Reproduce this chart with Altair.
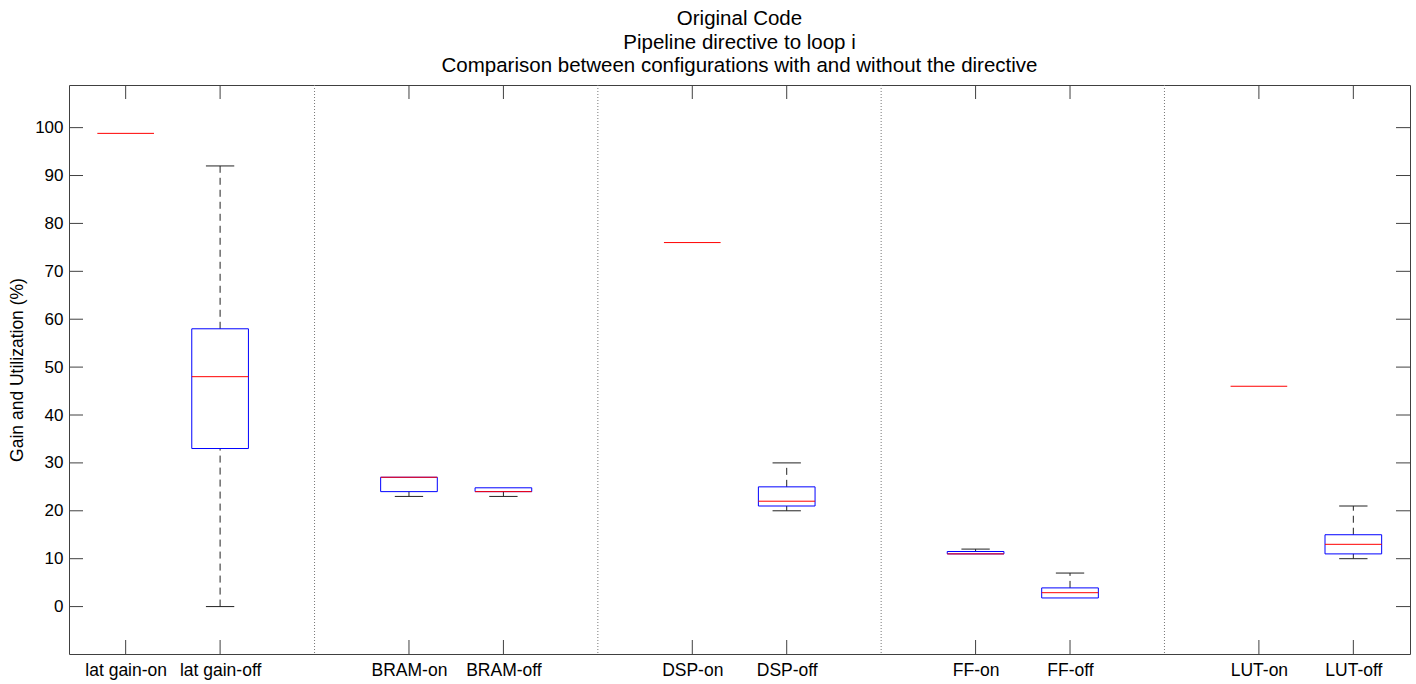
import altair as alt
import pandas as pd

# ---- data ----
labels = ["lat gain-on", "lat gain-off", "BRAM-on", "BRAM-off", "DSP-on",
          "DSP-off", "FF-on", "FF-off", "LUT-on", "LUT-off"]
positions = [1, 2, 4, 5, 7, 8, 10, 11, 13, 14]
whisker_low = [98.8, 0.0, 23.0, 23.0, 76.0, 20.0, 11.0, 1.8, 46.0, 10.0]
q1 = [98.8, 33.0, 24.0, 24.0, 76.0, 21.0, 11.0, 1.8, 46.0, 11.0]
median = [98.8, 48.0, 27.0, 24.0, 76.0, 22.0, 11.0, 2.9, 46.0, 13.0]
q3 = [98.8, 58.0, 27.0, 24.8, 76.0, 25.0, 11.5, 3.9, 46.0, 15.0]
whisker_high = [98.8, 92.0, 27.0, 24.8, 76.0, 30.0, 12.0, 7.0, 46.0, 21.0]
separators = [3, 6, 9, 12]
y_ticks = [0, 10, 20, 30, 40, 50, 60, 70, 80, 90, 100]
title_lines = ["Original Code", "Pipeline directive to loop i",
               "Comparison between configurations with and without the directive"]
y_title = "Gain and Utilization (%)"

# ---- layout / style ----
W, H = 1341, 569
FONT = "Liberation Sans"
BOX_HALF = 0.3
CAP_HALF = 0.15
TICK_LEN = 14
FRAME = "#404040"

df = pd.DataFrame({"label": labels, "pos": positions, "lo": whisker_low, "q1": q1,
                   "med": median, "q3": q3, "hi": whisker_high})
sep_df = pd.DataFrame({"x": separators})
ytick_df = pd.DataFrame({"v": y_ticks})

xs = alt.Scale(domain=[0.4, 14.6], nice=False, zero=False)
ys = alt.Scale(domain=[-9.9, 108.9], nice=False, zero=False)

label_expr = "".join(f"datum.value == {p} ? '{l}' : " for p, l in zip(positions, labels)) + "''"

x_axis = alt.Axis(values=positions, labelExpr=label_expr, title=None, grid=False,
                  domain=False, ticks=False, labelFont=FONT, labelFontSize=17.5,
                  labelColor="black", labelPadding=7, labelFlush=False)
y_axis = alt.Axis(values=y_ticks, title=y_title, grid=False, domain=False, ticks=False,
                  labelFont=FONT, labelFontSize=17, labelColor="black", labelPadding=6,
                  titleFont=FONT, titleFontSize=17.5, titleFontWeight="normal",
                  titleColor="black", titlePadding=8)

base = alt.Chart(df)

seps = alt.Chart(sep_df).mark_rule(color="#777777", strokeDash=[1, 2], strokeWidth=1).encode(
    x=alt.X("x:Q", scale=xs, axis=x_axis), y=alt.value(0), y2=alt.value(H))

whisk_up = base.mark_rule(color="#222222", strokeDash=[7, 5], strokeWidth=1).encode(
    x=alt.X("pos:Q", scale=xs), y=alt.Y("q3:Q", scale=ys, axis=y_axis), y2="hi:Q")
whisk_dn = base.mark_rule(color="#222222", strokeDash=[7, 5], strokeWidth=1).encode(
    x=alt.X("pos:Q", scale=xs), y=alt.Y("lo:Q", scale=ys), y2="q1:Q")

# caps only where the whisker has length (otherwise hidden under the box in the original)
caps_hi = base.transform_filter("datum.hi > datum.q3").transform_calculate(
    a=f"datum.pos - {CAP_HALF}", b=f"datum.pos + {CAP_HALF}").mark_rule(
    color="#222222", strokeWidth=1).encode(
    x=alt.X("a:Q", scale=xs), x2="b:Q", y=alt.Y("hi:Q", scale=ys))
caps_lo = base.transform_filter("datum.lo < datum.q1").transform_calculate(
    a=f"datum.pos - {CAP_HALF}", b=f"datum.pos + {CAP_HALF}").mark_rule(
    color="#222222", strokeWidth=1).encode(
    x=alt.X("a:Q", scale=xs), x2="b:Q", y=alt.Y("lo:Q", scale=ys))

boxes = base.transform_filter("datum.q3 > datum.q1").transform_calculate(
    a=f"datum.pos - {BOX_HALF}", b=f"datum.pos + {BOX_HALF}").mark_rect(
    fill=None, fillOpacity=0, stroke="#0000ff", strokeWidth=1).encode(
    x=alt.X("a:Q", scale=xs), x2="b:Q", y=alt.Y("q1:Q", scale=ys), y2="q3:Q")

meds = base.transform_calculate(
    a=f"datum.pos - {BOX_HALF}", b=f"datum.pos + {BOX_HALF}").mark_rule(
    color="#ff0000", strokeWidth=1).encode(
    x=alt.X("a:Q", scale=xs), x2="b:Q", y=alt.Y("med:Q", scale=ys))

pos_df = pd.DataFrame({"pos": positions})
xt_bot = alt.Chart(pos_df).mark_rule(color=FRAME).encode(
    x=alt.X("pos:Q", scale=xs), y=alt.value(H), y2=alt.value(H - TICK_LEN))
xt_top = alt.Chart(pos_df).mark_rule(color=FRAME).encode(
    x=alt.X("pos:Q", scale=xs), y=alt.value(0), y2=alt.value(TICK_LEN))
yt_left = alt.Chart(ytick_df).mark_rule(color=FRAME).encode(
    y=alt.Y("v:Q", scale=ys), x=alt.value(0), x2=alt.value(TICK_LEN))
yt_right = alt.Chart(ytick_df).mark_rule(color=FRAME).encode(
    y=alt.Y("v:Q", scale=ys), x=alt.value(W - TICK_LEN), x2=alt.value(W))

chart = alt.layer(seps, whisk_up, whisk_dn, caps_hi, caps_lo, boxes, meds,
                  xt_bot, xt_top, yt_left, yt_right).properties(
    width=W, height=H,
    title=alt.TitleParams(text=title_lines, font=FONT, fontSize=20.5, fontWeight="normal",
                          color="black", anchor="middle", lineHeight=23.5, offset=8),
    padding={"left": 69, "top": 85, "right": 6, "bottom": 30},
    autosize=alt.AutoSizeParams(type="none"),
    background="white",
).configure_view(stroke=FRAME, strokeWidth=1)

chart.save("out.html", embed_options={"renderer": "svg", "actions": False})
